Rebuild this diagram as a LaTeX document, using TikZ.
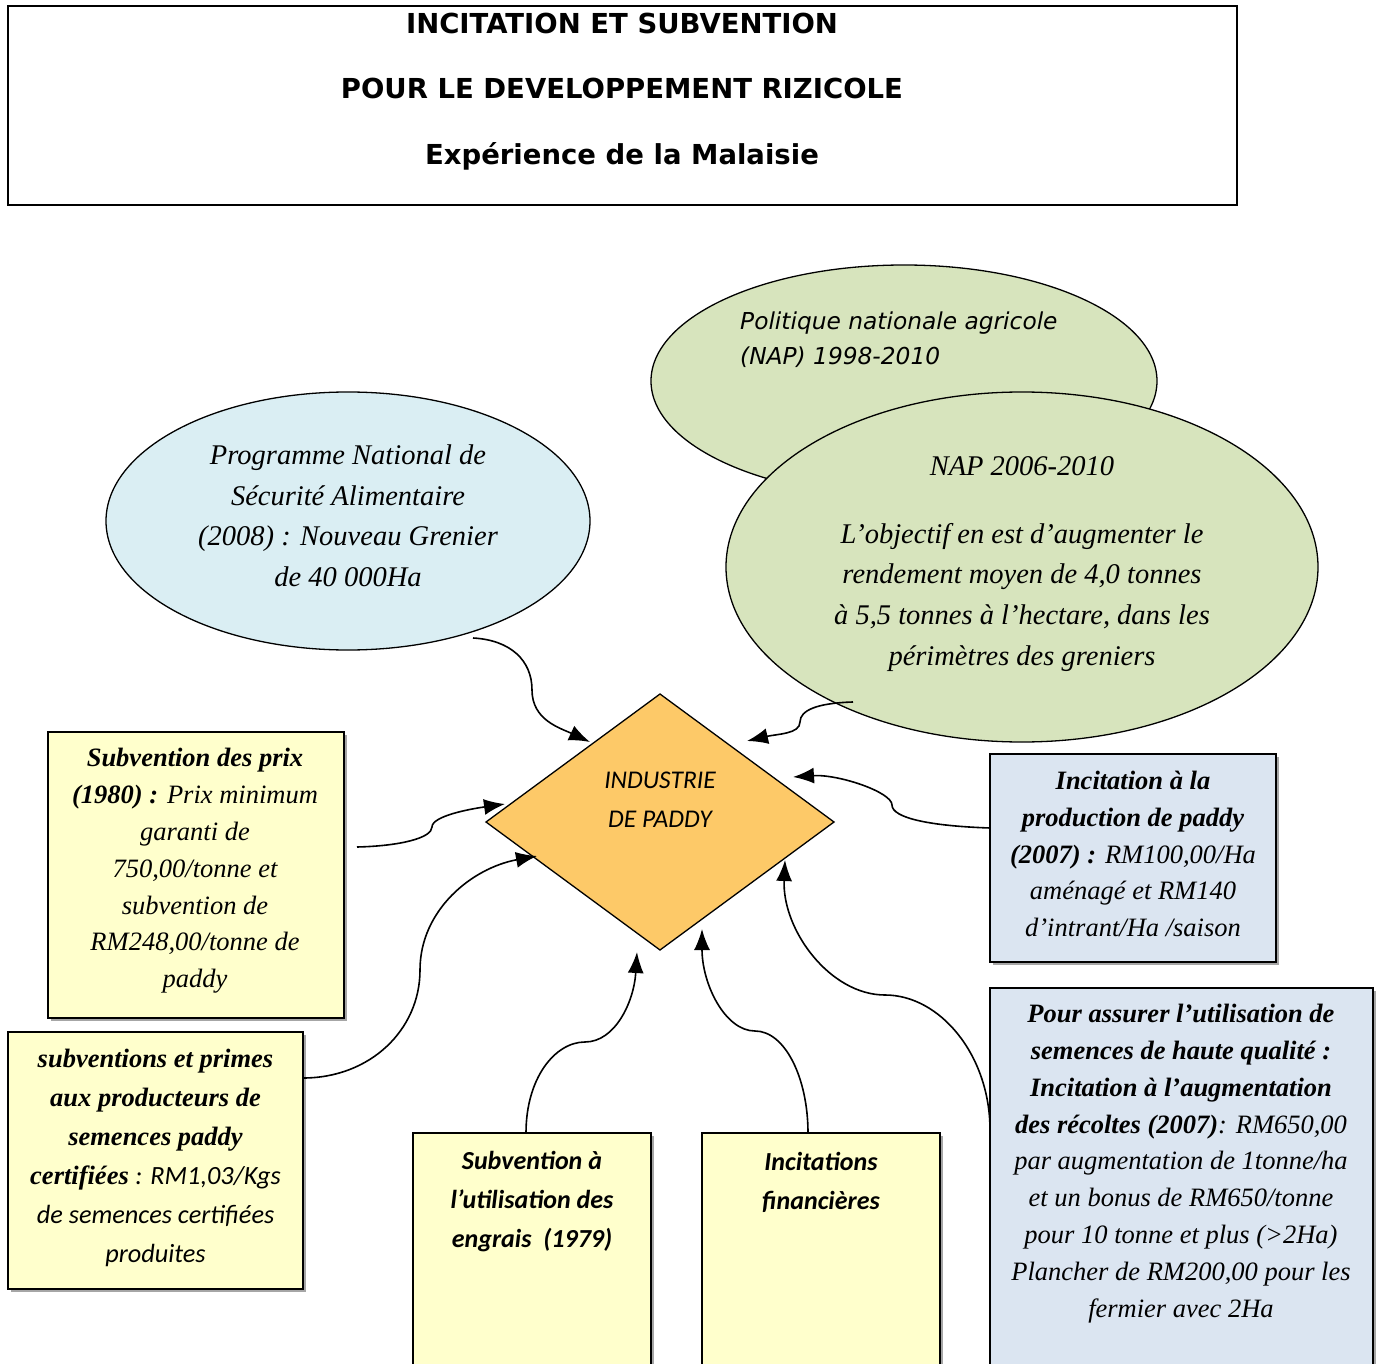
\documentclass[tikz,border=0pt]{standalone}
\usepackage{fontspec}
\setmainfont{Liberation Serif}
\newfontfamily\verdfont{DejaVu Sans}
\newfontfamily\calfont{Carlito}
\usetikzlibrary{shapes.geometric,arrows.meta,calc}
\definecolor{ogreen}{HTML}{D7E4BD}
\definecolor{lblue}{HTML}{DAEEF3}
\definecolor{dorange}{HTML}{FDC968}
\definecolor{lyellow}{HTML}{FFFFCC}
\definecolor{gblue}{HTML}{DBE5F1}
\begin{document}
\begin{tikzpicture}[x=1pt,y=-1pt,
  bx/.style={draw, line width=1.5pt, inner sep=0pt, outer sep=0pt,
    preaction={fill=black!35, transform canvas={shift={(2.5pt,-2.5pt)}}}},
  ybox/.style={bx, fill=lyellow},
  bbox/.style={bx, fill=gblue},
  ell/.style={ellipse, draw, line width=1.3pt, inner sep=0pt, outer sep=0pt},
  txt/.style={inner sep=0pt, align=center},
  tms/.style={font=\itshape\fontsize{26.5}{36.8}\selectfont},
  arr/.style={line width=1.6pt, -{Latex[length=21pt,width=16pt]}}]
\useasboundingbox (0,0) rectangle (1377,1364);
\clip (0,0) rectangle (1377,1364);

% title
\node[draw, line width=1.6pt, minimum width=1229pt, minimum height=199pt, inner sep=0pt] (title) at (622.5,105.5) {};
\node[txt, font=\verdfont\bfseries\fontsize{27.5}{65.5}\selectfont] (titletxt) at (622,91.5)
  {INCITATION ET SUBVENTION\\POUR LE DEVELOPPEMENT RIZICOLE\\Expérience de la Malaisie};

% ellipses
\node[ell, fill=ogreen, minimum width=506pt, minimum height=232pt] (nap1) at (904,381) {};
\node[txt, anchor=west, align=left, font=\verdfont\itshape\fontsize{23.3}{35}\selectfont] (nap1txt) at (740,340)
  {Politique nationale agricole\\(NAP) 1998-2010};
\node[ell, fill=ogreen, minimum width=592pt, minimum height=350pt] (nap2) at (1022,567) {};
\node[txt, font=\itshape\fontsize{28.5}{40.8}\selectfont] (nap2txt) at (1022,564)
  {NAP 2006-2010\\[27pt]L’objectif en est d’augmenter le\\rendement moyen de 4,0 tonnes\\à 5,5 tonnes à l’hectare, dans les\\périmètres des greniers};
\node[ell, fill=lblue, minimum width=484pt, minimum height=258pt] (prog) at (348,521) {};
\node[txt, font=\itshape\fontsize{28.5}{40.5}\selectfont] (progtxt) at (348,516)
  {Programme National de\\Sécurité Alimentaire\\(2008) : Nouveau Grenier\\de 40 000Ha};

% diamond
\node[diamond, draw, line width=1.3pt, fill=dorange, minimum width=348pt, minimum height=256pt, inner sep=0pt, outer sep=0pt] (dia) at (660,822) {};
\node[txt, font=\calfont\itshape\fontsize{25.5}{39}\selectfont] (diatxt) at (660,800) {INDUSTRIE\\DE PADDY};

% boxes
\node[ybox, minimum width=296pt, minimum height=286pt] (box1) at (196,875) {};
\node[txt, tms] (box1txt) at (195,871)
  {\textbf{Subvention des prix}\\\textbf{(1980) :} Prix minimum\\garanti de\\750,00/tonne et\\subvention de\\RM248,00/tonne de\\paddy};

\node[ybox, minimum width=295pt, minimum height=257pt] (box2) at (155.5,1160.5) {};
\node[txt, font=\itshape\fontsize{26.5}{39}\selectfont] (box2txt) at (155.5,1157.5)
  {\textbf{subventions et primes}\\\textbf{aux producteurs de}\\\textbf{semences paddy}\\\textbf{certifiées} {\calfont\fontsize{26.3}{39}\selectfont : RM1,03/Kgs}\\{\calfont\fontsize{26.3}{39}\selectfont de semences certifiées}\\{\calfont\fontsize{26.3}{39}\selectfont produites}};

\node[ybox, minimum width=238pt, minimum height=260pt] (box3) at (532,1263) {};
\node[txt, font=\calfont\bfseries\itshape\fontsize{26}{39}\selectfont] (box3txt) at (532,1202)
  {Subvention à\\l’utilisation des\\engrais~~(1979)};

\node[ybox, minimum width=238pt, minimum height=260pt] (box4) at (821,1263) {};
\node[txt, font=\calfont\bfseries\itshape\fontsize{26}{39}\selectfont] (box4txt) at (821,1182.5)
  {Incitations\\financières};

\node[bbox, minimum width=286pt, minimum height=208pt] (box5) at (1133,858) {};
\node[txt, tms] (box5txt) at (1133,854)
  {\textbf{Incitation à la}\\\textbf{production de paddy}\\\textbf{(2007) :} RM100,00/Ha\\aménagé et RM140\\d’intrant/Ha /saison};

\node[bbox, minimum width=383pt, minimum height=400pt] (box6) at (1181.5,1188) {};
\node[txt, tms] (box6txt) at (1181,1163.5)
  {\textbf{Pour assurer l’utilisation de}\\\textbf{semences de haute qualité :}\\\textbf{Incitation à l’augmentation}\\\textbf{des récoltes (2007)}: RM650,00\\par augmentation de 1tonne/ha\\et un bonus de RM650/tonne\\pour 10 tonne et plus (>2Ha)\\Plancher de RM200,00 pour les\\fermier avec 2Ha};

% connector end points
\coordinate (s1) at ($(prog.center)+(125,117)$);
\coordinate (t1) at ($(dia.west)+(104,-80)$);
\coordinate (s2) at ($(nap2.center)+(-169,135)$);
\coordinate (t2) at ($(dia.north)+(87,47)$);
\coordinate (s3) at ($(box5.west)+(0,-30)$);
\coordinate (t3) at ($(dia.north)+(133,83)$);
\coordinate (s4) at ($(box1.east)+(13,-28)$);
\coordinate (t4) at ($(dia.west)+(19,-18)$);
\coordinate (s5) at ($(box2.east)+(0,-82.5)$);
\coordinate (t5) at ($(dia.west)+(51,34)$);
\coordinate (s6) at ($(box3.north)+(-6,0)$);
\coordinate (t6) at ($(dia.south)+(-23,2)$);
\coordinate (s7) at ($(box4.north)+(-13,0)$);
\coordinate (t7) at ($(dia.south)+(42,-21)$);
\coordinate (s8) at ($(box6.north west)+(0,142)$);
\coordinate (t8) at ($(dia.south)+(125,-90)$);

% connectors
\draw[arr] (s1) .. controls +(37,2) and +(0,-30) .. (532,690) .. controls +(0,30) and +(-30,-14) .. (t1);
\draw[arr] (s2) .. controls +(-35,1) and +(0,-12) .. (800,722) .. controls +(0,12) and +(30,-7) .. (t2);
\draw[arr] (s3) .. controls +(-60,-2) and +(0,13) .. (892,805) .. controls +(0,-13) and +(45,-3) .. (t3);
\draw[arr] (s4) .. controls +(43,-1) and +(0,11) .. (432,827) .. controls +(0,-11) and +(-35,5) .. (t4);
\draw[arr] (s5) .. controls +(67,0) and +(0,60) .. (420,970) .. controls +(0,-60) and +(-65,12) .. (t5);
\draw[arr] (s6) .. controls +(0,-55) and +(-30,0) .. (585,1042) .. controls +(30,0) and +(-3,50) .. (t6);
\draw[arr] (s7) .. controls +(0,-55) and +(30,0) .. (755,1031) .. controls +(-30,0) and +(0,55) .. (t7);
\draw[arr] (s8) .. controls +(0,-75) and +(55,0) .. (885,995) .. controls +(-55,0) and +(-3,70) .. (t8);
\end{tikzpicture}
\end{document}
